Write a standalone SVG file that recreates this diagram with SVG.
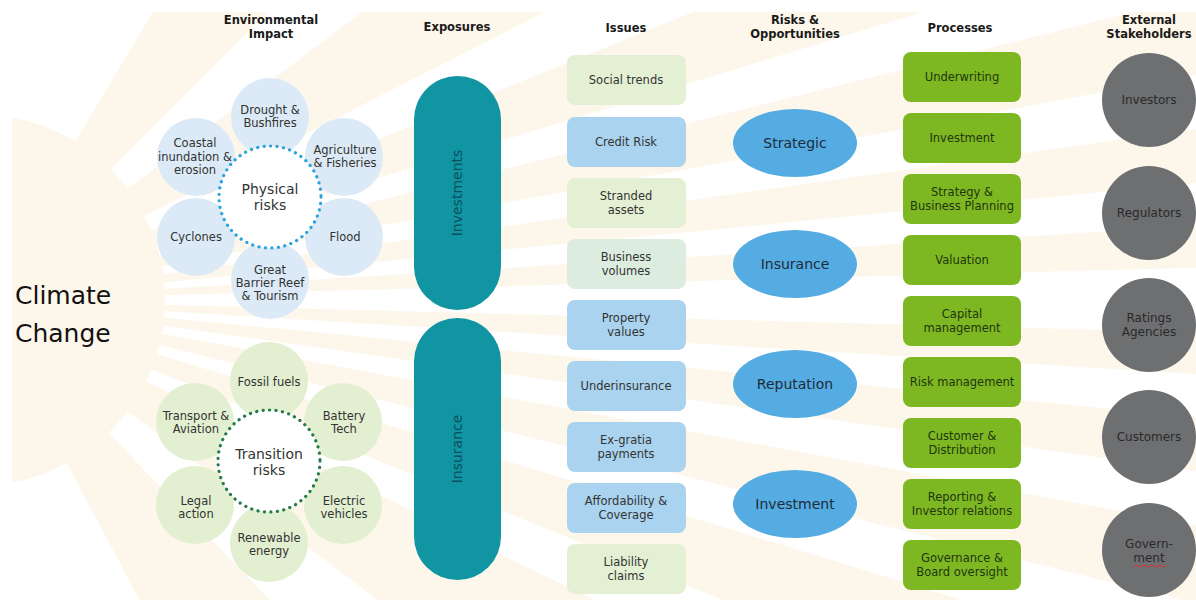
<svg xmlns="http://www.w3.org/2000/svg" width="1196" height="606" viewBox="0 0 1196 606">
<defs>
<style>
.hdr{font-family:"DejaVu Sans",Verdana,sans-serif;font-size:11.5px;font-weight:bold;fill:#1a1a1a;text-anchor:middle}
.lbl{font-family:"DejaVu Sans",Verdana,sans-serif;font-size:11.5px;fill:#333;text-anchor:middle}
.big{font-family:"DejaVu Sans",Verdana,sans-serif;font-size:14px;fill:#333;text-anchor:middle}
.ray{fill:#fdf7eb}
.pb{fill:#dbeaf6}
.pg{fill:#e2efd1}
.iss-b{fill:#a9d3ef}
.iss-g{fill:#e4f0d3}
.iss-m{fill:#dcede0}
.proc{fill:#7db823}
.ell{fill:#55ace2}
.stk{fill:#6e6f71}
.pill{fill:#1195a3}
.ptxt{fill:#22350c}
</style>
<clipPath id="bgclip"><rect x="12" y="12" width="1184" height="588"/></clipPath>
</defs>
<rect width="1196" height="606" fill="#ffffff"/>
<g id="background" clip-path="url(#bgclip)">
<circle class="ray" cx="-20" cy="300" r="185"/>
<polygon class="ray" points="-20,300 701,-900 970,-690"/>
<polygon class="ray" points="-20,300 1098,-543 1227,-336"/>
<polygon class="ray" points="-20,300 1278,-224 1319,-109"/>
<polygon class="ray" points="-20,300 1338,-39 1357,45"/>
<polygon class="ray" points="-20,300 1366,105 1374,166"/>
<polygon class="ray" points="-20,300 1377,215 1380,263"/>
<polygon class="ray" points="-20,300 1380,337 1377,385"/>
<polygon class="ray" points="-20,300 1374,434 1366,495"/>
<polygon class="ray" points="-20,300 1357,555 1338,639"/>
<polygon class="ray" points="-20,300 1319,709 1278,824"/>
<polygon class="ray" points="-20,300 1238,914 1098,1143"/>
<polygon class="ray" points="-20,300 953,1307 637,1536"/>
</g>
<g id="title">
<text x="15" y="304" font-family="DejaVu Sans,Verdana,sans-serif" font-size="25" fill="#111">Climate</text>
<text x="15" y="342" font-family="DejaVu Sans,Verdana,sans-serif" font-size="25" fill="#111">Change</text>
</g>
<g id="headers">
<text class="hdr" x="271" y="24">Environmental</text>
<text class="hdr" x="271" y="38">Impact</text>
<text class="hdr" x="457" y="31">Exposures</text>
<text class="hdr" x="626" y="32">Issues</text>
<text class="hdr" x="795" y="24">Risks &amp;</text>
<text class="hdr" x="795" y="38">Opportunities</text>
<text class="hdr" x="960" y="32">Processes</text>
<text class="hdr" x="1149" y="24">External</text>
<text class="hdr" x="1149" y="38">Stakeholders</text>
</g>
<g id="connectors"></g>
<g id="physical-petals">
<g id="p-drought"><circle class="pb" cx="270" cy="117" r="39"/><text class="lbl" x="270" y="114">Drought &amp;</text><text class="lbl" x="270" y="127">Bushfires</text></g>
<g id="p-coastal"><circle class="pb" cx="196" cy="157" r="39"/><text class="lbl" x="195" y="147">Coastal</text><text class="lbl" x="195" y="161">inundation &amp;</text><text class="lbl" x="195" y="174">erosion</text></g>
<g id="p-agri"><circle class="pb" cx="344" cy="157" r="39"/><text class="lbl" x="345" y="154">Agriculture</text><text class="lbl" x="345" y="167">&amp; Fisheries</text></g>
<g id="p-cyclones"><circle class="pb" cx="196" cy="237" r="39"/><text class="lbl" x="196" y="241">Cyclones</text></g>
<g id="p-flood"><circle class="pb" cx="344" cy="237" r="39"/><text class="lbl" x="345" y="241">Flood</text></g>
<g id="p-reef"><circle class="pb" cx="270" cy="280" r="39"/><text class="lbl" x="270" y="274">Great</text><text class="lbl" x="270" y="287">Barrier Reef</text><text class="lbl" x="270" y="300">&amp; Tourism</text></g>
</g>
<g id="physical-risks">
<circle cx="270" cy="197" r="51" fill="#fff" stroke="#2aa3dc" stroke-width="3.2" stroke-linecap="round" stroke-dasharray="0.1 6.4"/>
<text class="big" x="270" y="194">Physical</text>
<text class="big" x="270" y="210">risks</text>
</g>
<g id="transition-petals">
<g id="t-fossil"><circle class="pg" cx="269" cy="381" r="39"/><text class="lbl" x="269" y="386">Fossil fuels</text></g>
<g id="t-transport"><circle class="pg" cx="195" cy="422" r="39"/><text class="lbl" x="196" y="420">Transport &amp;</text><text class="lbl" x="196" y="433">Aviation</text></g>
<g id="t-battery"><circle class="pg" cx="343" cy="422" r="39"/><text class="lbl" x="344" y="420">Battery</text><text class="lbl" x="344" y="433">Tech</text></g>
<g id="t-legal"><circle class="pg" cx="195" cy="505" r="39"/><text class="lbl" x="196" y="505">Legal</text><text class="lbl" x="196" y="518">action</text></g>
<g id="t-electric"><circle class="pg" cx="343" cy="505" r="39"/><text class="lbl" x="344" y="505">Electric</text><text class="lbl" x="344" y="518">vehicles</text></g>
<g id="t-renewable"><circle class="pg" cx="269" cy="543" r="39"/><text class="lbl" x="269" y="542">Renewable</text><text class="lbl" x="269" y="555">energy</text></g>
</g>
<g id="transition-risks">
<circle cx="269" cy="461" r="51" fill="#fff" stroke="#237a4b" stroke-width="3.2" stroke-linecap="round" stroke-dasharray="0.1 6.4"/>
<text class="big" x="269" y="459">Transition</text>
<text class="big" x="269" y="475">risks</text>
</g>
<g id="exp-investments"><rect class="pill" x="414" y="76" width="87" height="234" rx="43.5"/><text class="big" x="0" y="0" style="fill:#0a4f5c" transform="translate(462,193) rotate(-90)">Investments</text></g>
<g id="exp-insurance"><rect class="pill" x="414" y="318" width="87" height="262" rx="43.5"/><text class="big" x="0" y="0" style="fill:#0a4f5c" transform="translate(462,449) rotate(-90)">Insurance</text></g>
<g id="issue-social"><rect class="iss-g" x="567" y="55" width="119" height="50" rx="8"/><text class="lbl" x="626" y="84">Social trends</text></g>
<g id="issue-credit"><rect class="iss-b" x="567" y="117" width="119" height="50" rx="8"/><text class="lbl" x="626" y="146">Credit Risk</text></g>
<g id="issue-stranded"><rect class="iss-g" x="567" y="178" width="119" height="50" rx="8"/><text class="lbl" x="626" y="200">Stranded</text><text class="lbl" x="626" y="214">assets</text></g>
<g id="issue-business"><rect class="iss-m" x="567" y="239" width="119" height="50" rx="8"/><text class="lbl" x="626" y="261">Business</text><text class="lbl" x="626" y="275">volumes</text></g>
<g id="issue-property"><rect class="iss-b" x="567" y="300" width="119" height="50" rx="8"/><text class="lbl" x="626" y="322">Property</text><text class="lbl" x="626" y="336">values</text></g>
<g id="issue-underins"><rect class="iss-b" x="567" y="361" width="119" height="50" rx="8"/><text class="lbl" x="626" y="390">Underinsurance</text></g>
<g id="issue-exgratia"><rect class="iss-b" x="567" y="422" width="119" height="50" rx="8"/><text class="lbl" x="626" y="444">Ex-gratia</text><text class="lbl" x="626" y="458">payments</text></g>
<g id="issue-afford"><rect class="iss-b" x="567" y="483" width="119" height="50" rx="8"/><text class="lbl" x="626" y="505">Affordability &amp;</text><text class="lbl" x="626" y="519">Coverage</text></g>
<g id="issue-liability"><rect class="iss-g" x="567" y="544" width="119" height="50" rx="8"/><text class="lbl" x="626" y="566">Liability</text><text class="lbl" x="626" y="580">claims</text></g>
<g id="risk-strategic"><ellipse class="ell" cx="795" cy="143" rx="62" ry="34"/><text class="big" x="795" y="148" style="fill:#1d2b38">Strategic</text></g>
<g id="risk-insurance"><ellipse class="ell" cx="795" cy="264" rx="62" ry="34"/><text class="big" x="795" y="269" style="fill:#1d2b38">Insurance</text></g>
<g id="risk-reputation"><ellipse class="ell" cx="795" cy="384" rx="62" ry="34"/><text class="big" x="795" y="389" style="fill:#1d2b38">Reputation</text></g>
<g id="risk-investment"><ellipse class="ell" cx="795" cy="504" rx="62" ry="34"/><text class="big" x="795" y="509" style="fill:#1d2b38">Investment</text></g>
<g id="proc-underwriting"><rect class="proc" x="903" y="52" width="118" height="50" rx="8"/><text class="lbl ptxt" x="962" y="81">Underwriting</text></g>
<g id="proc-investment"><rect class="proc" x="903" y="113" width="118" height="50" rx="8"/><text class="lbl ptxt" x="962" y="142">Investment</text></g>
<g id="proc-strategy"><rect class="proc" x="903" y="174" width="118" height="50" rx="8"/><text class="lbl ptxt" x="962" y="196">Strategy &amp;</text><text class="lbl ptxt" x="962" y="210">Business Planning</text></g>
<g id="proc-valuation"><rect class="proc" x="903" y="235" width="118" height="50" rx="8"/><text class="lbl ptxt" x="962" y="264">Valuation</text></g>
<g id="proc-capital"><rect class="proc" x="903" y="296" width="118" height="50" rx="8"/><text class="lbl ptxt" x="962" y="318">Capital</text><text class="lbl ptxt" x="962" y="332">management</text></g>
<g id="proc-risk"><rect class="proc" x="903" y="357" width="118" height="50" rx="8"/><text class="lbl ptxt" x="962" y="386">Risk management</text></g>
<g id="proc-customer"><rect class="proc" x="903" y="418" width="118" height="50" rx="8"/><text class="lbl ptxt" x="962" y="440">Customer &amp;</text><text class="lbl ptxt" x="962" y="454">Distribution</text></g>
<g id="proc-reporting"><rect class="proc" x="903" y="479" width="118" height="50" rx="8"/><text class="lbl ptxt" x="962" y="501">Reporting &amp;</text><text class="lbl ptxt" x="962" y="515">Investor relations</text></g>
<g id="proc-governance"><rect class="proc" x="903" y="540" width="118" height="50" rx="8"/><text class="lbl ptxt" x="962" y="562">Governance &amp;</text><text class="lbl ptxt" x="962" y="576">Board oversight</text></g>
<g id="stk-investors"><circle class="stk" cx="1149" cy="100" r="47"/><text class="lbl" x="1149" y="104" style="font-size:12px;fill:#2a2a2a">Investors</text></g>
<g id="stk-regulators"><circle class="stk" cx="1149" cy="213" r="47"/><text class="lbl" x="1149" y="217" style="font-size:12px;fill:#2a2a2a">Regulators</text></g>
<g id="stk-ratings"><circle class="stk" cx="1149" cy="325" r="47"/><text class="lbl" x="1149" y="322" style="font-size:12px;fill:#2a2a2a">Ratings</text><text class="lbl" x="1149" y="336" style="font-size:12px;fill:#2a2a2a">Agencies</text></g>
<g id="stk-customers"><circle class="stk" cx="1149" cy="437" r="47"/><text class="lbl" x="1149" y="441" style="font-size:12px;fill:#2a2a2a">Customers</text></g>
<g id="stk-government"><circle class="stk" cx="1149" cy="550" r="47"/><text class="lbl" x="1149" y="548" style="font-size:12px;fill:#2a2a2a">Govern-</text><text class="lbl" x="1149" y="562" style="font-size:12px;fill:#2a2a2a">ment</text><path d="M1134,566 q2,-2 4,0 t4,0 t4,0 t4,0 t4,0 t4,0 t4,0 t4,0" fill="none" stroke="#d33" stroke-width="1"/></g>
</svg>
